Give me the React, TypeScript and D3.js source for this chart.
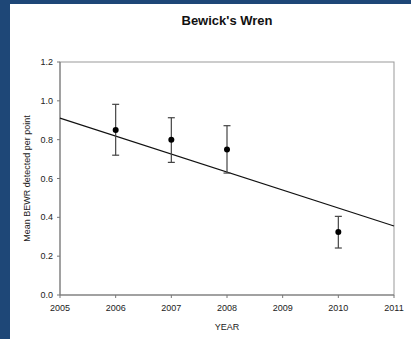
import React from "react";
import * as d3 from "d3";

// Survey means of Bewick's Wren per point, with error bar bounds
const years = [2006, 2007, 2008, 2010];
const means = [0.85, 0.8, 0.75, 0.325];
const upper = [0.982, 0.913, 0.872, 0.405];
const lower = [0.72, 0.683, 0.628, 0.242];

// Trend line end values at the axis limits
const trendYears = [2005, 2011];
const trendValues = [0.911, 0.355];

const xTicks = [2005, 2006, 2007, 2008, 2009, 2010, 2011];
const yTicks = [0, 0.2, 0.4, 0.6, 0.8, 1.0, 1.2];

const W = 411;
const H = 339;
const plot = { left: 60, right: 394, top: 62, bottom: 295 };
const font = "'Liberation Sans', Arial, sans-serif";

export default function App() {
  const x = d3.scaleLinear().domain([2005, 2011]).range([plot.left, plot.right]);
  const y = d3.scaleLinear().domain([0, 1.2]).range([plot.bottom, plot.top]);
  const trend = d3
    .line<number>()
    .x((_, i) => x(trendYears[i]))
    .y((v) => y(v))(trendValues);
  const axisColor = "#777";
  const textColor = "#222";

  return (
    <svg
      width={W}
      height={H}
      style={{ position: "fixed", left: 0, top: 0, display: "block" }}
      fontFamily={font}
    >
      <rect x={0} y={0} width={W} height={H} fill="#ffffff" />
      <rect x={0} y={0} width={W} height={4} fill="#1e4777" />
      <rect x={0} y={0} width={10} height={H} fill="#1e4777" />

      <text x={227} y={25} textAnchor="middle" fontSize={13} fontWeight="bold" fill="#111">
        Bewick's Wren
      </text>

      {/* frame */}
      <rect
        x={plot.left}
        y={plot.top}
        width={plot.right - plot.left}
        height={plot.bottom - plot.top}
        fill="none"
        stroke="#999"
        strokeWidth={1}
      />
      <line x1={plot.left} x2={plot.left} y1={plot.top} y2={plot.bottom} stroke={axisColor} />
      <line x1={plot.left} x2={plot.right} y1={plot.bottom} y2={plot.bottom} stroke={axisColor} />

      {/* y axis */}
      {yTicks.map((t) => (
        <g key={"y" + t}>
          <line x1={plot.left - 3} x2={plot.left} y1={y(t)} y2={y(t)} stroke={axisColor} />
          <text
            x={plot.left - 7}
            y={y(t)}
            dy="0.35em"
            textAnchor="end"
            fontSize={9}
            fill={textColor}
          >
            {d3.format(".1f")(t)}
          </text>
        </g>
      ))}

      {/* x axis */}
      {xTicks.map((t) => (
        <g key={"x" + t}>
          <line x1={x(t)} x2={x(t)} y1={plot.bottom} y2={plot.bottom + 3} stroke={axisColor} />
          <text x={x(t)} y={311} textAnchor="middle" fontSize={9} fill={textColor}>
            {t}
          </text>
        </g>
      ))}

      <text x={227} y={330} textAnchor="middle" fontSize={9} fill={textColor}>
        YEAR
      </text>
      <text
        transform={`translate(30,${(plot.top + plot.bottom) / 2}) rotate(-90)`}
        textAnchor="middle"
        fontSize={9}
        fill={textColor}
      >
        Mean BEWR detected per point
      </text>

      {/* trend line */}
      <path d={trend || ""} fill="none" stroke="#111" strokeWidth={1.1} />

      {/* error bars and means */}
      {years.map((yr, i) => {
        const cx = x(yr);
        return (
          <g key={"p" + yr}>
            <line x1={cx} x2={cx} y1={y(upper[i])} y2={y(lower[i])} stroke="#444" strokeWidth={1.2} />
            <line x1={cx - 3.5} x2={cx + 3.5} y1={y(upper[i])} y2={y(upper[i])} stroke="#444" strokeWidth={1.2} />
            <line x1={cx - 3.5} x2={cx + 3.5} y1={y(lower[i])} y2={y(lower[i])} stroke="#444" strokeWidth={1.2} />
            <circle cx={cx} cy={y(means[i])} r={3} fill="#000" />
          </g>
        );
      })}
    </svg>
  );
}
